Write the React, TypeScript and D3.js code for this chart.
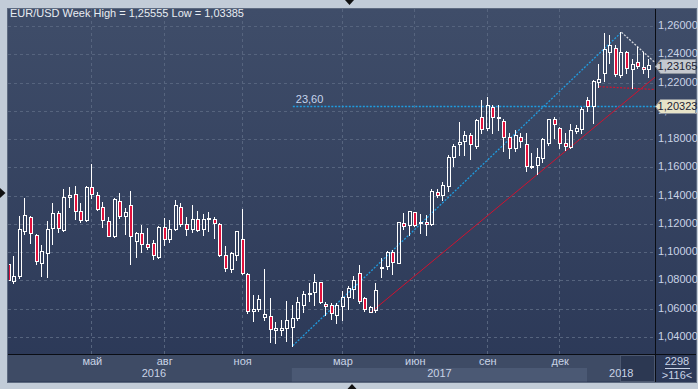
import React from 'react';
import * as d3 from 'd3';

// weekly EUR/USD candles
const openP = [
  1.0918, 1.0795, 1.0828, 1.1148, 1.1247, 1.112, 1.0922, 1.0993, 1.1169, 1.1275,
  1.1158, 1.1393, 1.141, 1.1294, 1.1228, 1.1459, 1.1403, 1.1318, 1.1219, 1.1111,
  1.136, 1.1254, 1.1332, 1.1077, 1.1134, 1.1056, 1.1063, 1.0969, 1.1176, 1.1096,
  1.1162, 1.1318, 1.1198, 1.1162, 1.1238, 1.1162, 1.1238, 1.1238, 1.1198, 1.0979,
  1.088, 1.0978, 1.1092, 1.0847, 1.0587, 1.0601, 1.0538, 1.0547, 1.0448, 1.045,
  1.0465, 1.0469, 1.0531, 1.0625, 1.0705, 1.0717, 1.0788, 1.0632, 1.0625, 1.0559,
  1.062, 1.0681, 1.074, 1.0853, 1.0677, 1.058, 1.0592, 1.0887, 1.0905, 1.1,
  1.0927, 1.1209, 1.1191, 1.1283, 1.1207, 1.1212, 1.1202, 1.1429, 1.1403, 1.1471,
  1.1676, 1.1763, 1.1789, 1.1827, 1.1754, 1.1954, 1.1881, 1.2025, 1.1947, 1.1926,
  1.1813, 1.174, 1.1813, 1.1763, 1.1605, 1.1619, 1.1664, 1.177, 1.194, 1.1876,
  1.1775, 1.1747, 1.1855, 1.1874, 1.2077, 1.2034, 1.2206, 1.2265, 1.2419, 1.2442,
  1.2253, 1.2419, 1.2294, 1.2348, 1.2312, 1.2294,
];
const highP = [
  1.0935, 1.0974, 1.1257, 1.1381, 1.1257, 1.1129, 1.1049, 1.1221, 1.1351, 1.1292,
  1.1445, 1.1462, 1.1469, 1.1346, 1.1469, 1.1622, 1.1426, 1.1356, 1.1247, 1.1382,
  1.1417, 1.1313, 1.1433, 1.1143, 1.1193, 1.117, 1.1087, 1.1185, 1.124, 1.1228,
  1.1367, 1.1346, 1.125, 1.1332, 1.1292, 1.1271, 1.1285, 1.1247, 1.1207, 1.1044,
  1.1004, 1.1153, 1.1306, 1.0856, 1.0698, 1.07, 1.0882, 1.0674, 1.0507, 1.0521,
  1.0658, 1.0627, 1.0686, 1.0724, 1.0781, 1.0846, 1.0792, 1.0648, 1.0644, 1.0644,
  1.0728, 1.0762, 1.0828, 1.0912, 1.0686, 1.062, 1.0785, 1.0957, 1.1011, 1.1016,
  1.1217, 1.128, 1.129, 1.1287, 1.1271, 1.1266, 1.145, 1.145, 1.1497, 1.1688,
  1.1766, 1.1919, 1.186, 1.1841, 1.1942, 1.2077, 1.2096, 1.2042, 1.2042, 1.1945,
  1.1841, 1.1865, 1.1841, 1.1841, 1.1705, 1.174, 1.1806, 1.1945, 1.1959, 1.1883,
  1.1841, 1.1907, 1.19, 1.203, 1.2096, 1.2218, 1.2332, 1.2548, 1.2536, 1.2466,
  1.25555, 1.2426, 1.2364, 1.2449, 1.2418, 1.2364,
];
const lowP = [
  1.0778, 1.0785, 1.0816, 1.113, 1.1068, 1.0917, 1.0828, 1.0821, 1.1059, 1.1146,
  1.1153, 1.1323, 1.1235, 1.1217, 1.1221, 1.1386, 1.1299, 1.1176, 1.1111, 1.1106,
  1.1245, 1.1127, 1.0913, 1.0969, 1.1004, 1.1021, 1.0953, 1.0957, 1.1052, 1.1073,
  1.1155, 1.1186, 1.1125, 1.1143, 1.1153, 1.1125, 1.1153, 1.1103, 1.0971, 1.0865,
  1.0863, 1.0946, 1.0847, 1.0573, 1.0516, 1.0582, 1.0521, 1.0368, 1.0356, 1.0415,
  1.0375, 1.03385, 1.0521, 1.0578, 1.0658, 1.0627, 1.0639, 1.0554, 1.0526, 1.0498,
  1.0521, 1.0601, 1.0674, 1.0644, 1.0585, 1.0575, 1.058, 1.0821, 1.0882, 1.0844,
  1.0922, 1.1162, 1.112, 1.1186, 1.1134, 1.1125, 1.1195, 1.1389, 1.137, 1.1436,
  1.1612, 1.1688, 1.1688, 1.1662, 1.1735, 1.1841, 1.1865, 1.1841, 1.1865, 1.1719,
  1.1669, 1.1719, 1.1747, 1.1577, 1.1593, 1.1553, 1.1641, 1.1758, 1.181, 1.1735,
  1.1723, 1.1735, 1.1841, 1.1841, 1.2001, 1.1917, 1.2171, 1.2211, 1.2341, 1.2249,
  1.2242, 1.2265, 1.2159, 1.2301, 1.2265, 1.2242,
];
const closeP = [
  1.0804, 1.0828, 1.1162, 1.1261, 1.1134, 1.0936, 1.1007, 1.1162, 1.1275, 1.1169,
  1.1393, 1.1403, 1.1292, 1.1226, 1.1459, 1.141, 1.1308, 1.1226, 1.1118, 1.1374,
  1.1254, 1.1285, 1.1113, 1.1139, 1.1056, 1.1035, 1.0979, 1.1176, 1.1094, 1.1162,
  1.1332, 1.1198, 1.1162, 1.1238, 1.1158, 1.1233, 1.124, 1.1205, 1.0979, 1.0887,
  1.0993, 1.1148, 1.0856, 1.0587, 1.0599, 1.0667, 1.0561, 1.0455, 1.0465, 1.0465,
  1.0521, 1.0533, 1.0648, 1.0705, 1.0712, 1.0788, 1.0648, 1.0618, 1.0568, 1.0625,
  1.0684, 1.0745, 1.0804, 1.0655, 1.0597, 1.0615, 1.0733, 1.0898, 1.1002, 1.0931,
  1.1214, 1.1186, 1.129, 1.1195, 1.1212, 1.1198, 1.1433, 1.1403, 1.1473, 1.1671,
  1.1754, 1.1777, 1.1827, 1.1763, 1.1935, 1.1869, 1.2039, 1.1954, 1.1954, 1.1817,
  1.174, 1.1827, 1.1784, 1.1612, 1.161, 1.1671, 1.1798, 1.194, 1.1905, 1.1775,
  1.1754, 1.1865, 1.1876, 1.2011, 1.2034, 1.2211, 1.2225, 1.2435, 1.2466, 1.2261,
  1.2414, 1.2301, 1.2332, 1.2317, 1.2294, 1.2322,
];

const lastPrice = 1.23165;
const fibPrice = 1.20323;
const fibLabel = '23,60';

const priceTicks = [1.04, 1.06, 1.08, 1.1, 1.12, 1.14, 1.16, 1.18, 1.2, 1.22, 1.24, 1.26];
const monthTickIdx = [15, 28, 42, 60, 73, 86, 99];
const monthLabels = ['май', 'авг', 'ноя', 'мар', 'июн', 'сен', 'дек'];
const yearStartIdx = [0, 51, 104];
const yearLabels = ['2016', '2017', '2018'];

// drawn studies: [fromIdx, fromPrice, throughIdx, throughPrice]
const fanLine = [51, 1.03385, 110, 1.25555];
const supportLine = [65, 1.0575, 95, 1.1553];
const topLine = [110, 1.25555, 113, 1.2449];
const lowDotLine = [106, 1.2171, 112, 1.2159];

const W = 698;
const H = 389;
const plot = { left: 8, right: 655.5, top: 9, bottom: 354 };
const FONT = '"Liberation Sans", Arial, sans-serif';
const axisText = '#c9d3e6';

const fmt = (v: number) => v.toFixed(5).replace('.', ',');

export default function App() {
  const n = openP.length;
  const x = d3.scaleLinear().domain([0, n - 1]).range([8.75, 649.3]);
  const y = d3.scaleLinear().domain([1.04, 1.26]).range([337, 26]);
  const xEdge = x.invert(plot.right);
  const fibY = Math.round(y(fibPrice)) + 0.5;

  const extend = (l: number[], toEdge: boolean) => {
    const [i0, p0, i1, p1] = l;
    const iEnd = toEdge ? xEdge : i1;
    const pEnd = p0 + ((p1 - p0) * (iEnd - i0)) / (i1 - i0);
    return { x1: x(i0), y1: y(p0), x2: x(iEnd), y2: y(pEnd) };
  };

  const candles = d3.range(n).map((i) => {
    const o = openP[i], c = closeP[i], hi = highP[i], lo = lowP[i];
    const cx = Math.round(x(i));
    const top = Math.round(y(Math.max(o, c)));
    const bot = Math.max(top + 1, Math.round(y(Math.min(o, c))));
    return { i, cx, top, bot, yh: Math.round(y(hi)), yl: Math.round(y(lo)), bull: c >= o };
  });

  const bandX = (i: number) => x(i) - 1;

  const priceBox = (v: number, fill: string) => {
    const yc = Math.round(y(v));
    const d = `M655.5,${yc + 0.5} L660.5,${yc - 6.5} L695.5,${yc - 6.5} L695.5,${yc + 7.5} L660.5,${yc + 7.5} Z`;
    return (
      <g key={v}>
        <path d={d} fill={fill} stroke="#8c939c" strokeWidth={1} />
        <text x={677.5} y={yc + 1} fill="#1b2233" fontSize={11} textAnchor="middle" dominantBaseline="middle">
          {fmt(v)}
        </text>
      </g>
    );
  };

  const fan = extend(fanLine, false);
  const sup = extend(supportLine, true);
  const topL = extend(topLine, true);
  const lowL = extend(lowDotLine, true);

  return (
    <div style={{ position: 'fixed', left: 0, top: 0 }}>
      <svg width={W} height={H} style={{ display: 'block', fontFamily: FONT }}>
        <defs>
          <linearGradient id="bg" x1="0" y1="0" x2="0" y2="1">
            <stop offset="0" stopColor="#3f4d69" />
            <stop offset="1" stopColor="#2b3857" />
          </linearGradient>
          <clipPath id="plotClip">
            <rect x={plot.left + 1} y={plot.top} width={plot.right - plot.left - 1} height={plot.bottom - plot.top} />
          </clipPath>
        </defs>

        <rect width={W} height={H} fill="#c2ccd8" />
        <rect x={7.5} y={8.5} width={689} height={374} fill="url(#bg)" stroke="#5d6a80" />

        {/* grid */}
        <g stroke="#56647e" strokeDasharray="3 3" strokeWidth={1}>
          {priceTicks.map((p) => (
            <line key={p} x1={plot.left} x2={plot.right} y1={Math.round(y(p)) + 0.5} y2={Math.round(y(p)) + 0.5} />
          ))}
          {monthTickIdx.map((i) => (
            <line key={i} x1={Math.round(x(i)) - 0.5} x2={Math.round(x(i)) - 0.5} y1={plot.top} y2={plot.bottom} />
          ))}
        </g>

        <g clipPath="url(#plotClip)">
          {/* studies */}
          <line x1={fan.x1} y1={fibY} x2={plot.right} y2={fibY} stroke="#1f9ce0" strokeWidth={1.3} strokeDasharray="2 1.5" />
          <line {...fan} stroke="#1f9ce0" strokeWidth={1.3} strokeDasharray="2 1.5" />
          <line {...sup} stroke="#d0122f" strokeWidth={1} />
          <line {...topL} stroke="#d4d6dc" strokeWidth={1.3} strokeDasharray="2 1.5" />
          <line {...lowL} stroke="#d0122f" strokeWidth={1.2} strokeDasharray="2 1.5" />

          {/* candles */}
          {candles.map((k) => (
            <g key={k.i}>
              <line x1={k.cx - 0.5} x2={k.cx - 0.5} y1={k.yh} y2={k.top} stroke="#ffffff" />
              <line x1={k.cx - 0.5} x2={k.cx - 0.5} y1={k.bot} y2={k.yl + 1} stroke="#ffffff" />
              <rect
                x={k.cx - 1.5}
                y={k.top + 0.5}
                width={3}
                height={k.bot - k.top}
                fill={k.bull ? 'none' : '#e1123d'}
                stroke="#ffffff"
                strokeWidth={1}
              />
            </g>
          ))}
        </g>

        <text x={fan.x1 + 3} y={fibY - 6.5} fill="#c6d5ee" fontSize={11} dominantBaseline="middle">
          {fibLabel}
        </text>

        <text x={10} y={14} fill="#e8ecf2" fontSize={11} dominantBaseline="middle">
          EUR/USD Week High = 1,25555 Low = 1,03385
        </text>

        {/* bottom time axis */}
        <rect x={8} y={355} width={647.5} height={26.5} fill="#3e4b65" />
        <rect x={bandX(yearStartIdx[1])} y={368} width={bandX(yearStartIdx[2]) - bandX(yearStartIdx[1])} height={13.5} fill="#4b5974" />
        <rect x={620.5} y={355.5} width={34} height={26} fill="#2c3852" stroke="#4c5870" />
        {monthTickIdx.map((i, k) => (
          <text key={i} x={x(i)} y={362.5} fill={axisText} fontSize={11} textAnchor="middle" dominantBaseline="middle">
            {monthLabels[k]}
          </text>
        ))}
        {yearLabels.map((lab, k) => {
          const a = k === 0 ? plot.left : bandX(yearStartIdx[k]);
          const b = k === yearLabels.length - 1 ? plot.right : bandX(yearStartIdx[k + 1]);
          return (
            <text key={lab} x={(a + b) / 2 + (k === 0 ? 4 : 0)} y={374.5} fill={axisText} fontSize={11} textAnchor="middle" dominantBaseline="middle">
              {lab}
            </text>
          );
        })}

        {/* frame lines */}
        <line x1={8} x2={696} y1={354.5} y2={354.5} stroke="#0a0d14" />
        <line x1={655.5} x2={655.5} y1={9} y2={382} stroke="#0a0d14" />

        {/* price axis */}
        {priceTicks.map((p) => (
          <text key={p} x={658} y={Math.round(y(p)) + 0.5} fill={axisText} fontSize={11} dominantBaseline="middle">
            {fmt(p)}
          </text>
        ))}
        {priceBox(lastPrice, '#c5c9cf')}
        {priceBox(fibPrice, '#e7e3c8')}

        {/* corner counter */}
        <text x={677} y={362} fill={axisText} fontSize={11} textAnchor="middle" dominantBaseline="middle">2298</text>
        <line x1={665} x2={690} y1={368.5} y2={368.5} stroke={axisText} />
        <text x={677} y={376} fill={axisText} fontSize={11} textAnchor="middle" dominantBaseline="middle">&gt;116&lt;</text>

        {/* scroll markers */}
        <path d="M345,0 L354,0 L349.5,5 Z" fill="#111" />
        <path d="M347.5,389 L356.5,389 L352,384 Z" fill="#111" />
        <path d="M0,188 L0,198 L5.5,193 Z" fill="#111" />
      </svg>
    </div>
  );
}
